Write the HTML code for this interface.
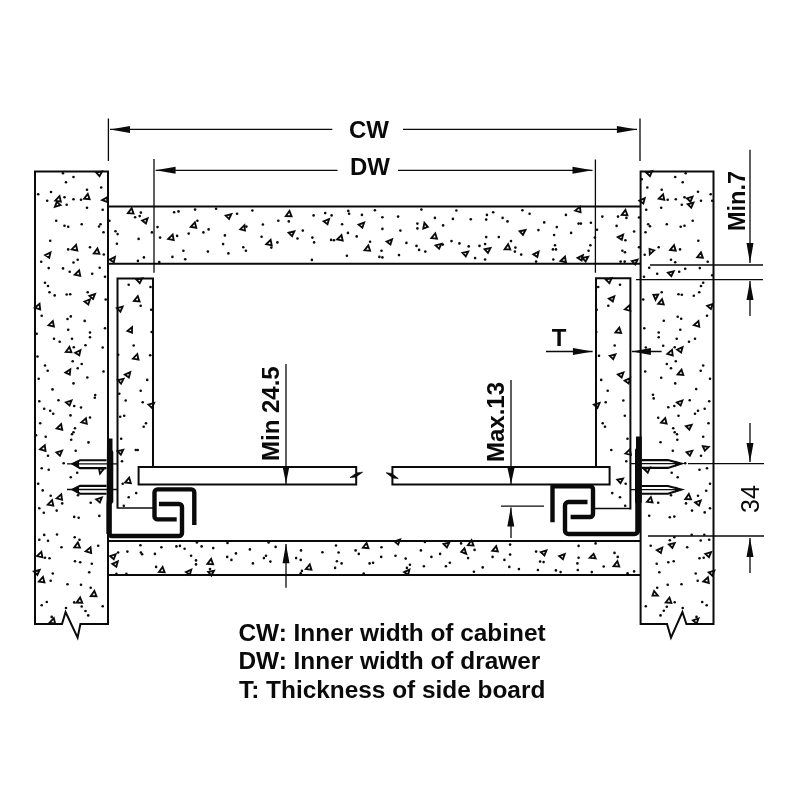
<!DOCTYPE html>
<html><head><meta charset="utf-8"><style>
html,body{margin:0;padding:0;background:#fff;width:800px;height:800px;overflow:hidden}
svg{display:block;will-change:transform}
text{font-family:"Liberation Sans",sans-serif}
</style></head><body>
<svg width="800" height="800" viewBox="0 0 800 800">
<rect width="800" height="800" fill="#fff"/>
<g fill="#0a0a0a"><circle cx="63.0" cy="173.2" r="1.3"/><circle cx="73.5" cy="177.0" r="1.3"/><circle cx="66.0" cy="182.2" r="1.3"/><circle cx="101.2" cy="187.5" r="1.3"/><circle cx="87.0" cy="189.7" r="1.3"/><circle cx="51.0" cy="192.0" r="1.3"/><circle cx="38.2" cy="194.2" r="1.3"/><circle cx="47.2" cy="200.7" r="1.3"/><circle cx="64.5" cy="197.2" r="1.3"/><circle cx="73.5" cy="199.2" r="1.3"/><circle cx="81.0" cy="199.8" r="1.3"/><circle cx="66.7" cy="204.7" r="1.3"/><circle cx="87.0" cy="207.7" r="1.3"/><circle cx="102.7" cy="209.7" r="1.3"/><circle cx="56.2" cy="220.8" r="1.3"/><circle cx="64.5" cy="225.7" r="1.3"/><circle cx="68.2" cy="226.8" r="1.3"/><circle cx="81.7" cy="224.2" r="1.3"/><circle cx="100.5" cy="224.2" r="1.3"/><circle cx="99.0" cy="226.5" r="1.3"/><circle cx="103.5" cy="232.2" r="1.3"/><circle cx="50.2" cy="240.7" r="1.3"/><circle cx="68.2" cy="249.4" r="1.3"/><circle cx="90.0" cy="247.2" r="1.3"/><circle cx="103.8" cy="254.5" r="1.3"/><circle cx="41.2" cy="261.7" r="1.3"/><circle cx="73.5" cy="262.5" r="1.3"/><circle cx="77.7" cy="259.8" r="1.3"/><circle cx="48.7" cy="268.1" r="1.3"/><circle cx="63.0" cy="268.4" r="1.3"/><circle cx="69.7" cy="271.7" r="1.3"/><circle cx="92.2" cy="273.7" r="1.3"/><circle cx="99.7" cy="267.7" r="1.3"/><circle cx="105.0" cy="276.7" r="1.3"/><circle cx="45.0" cy="282.7" r="1.3"/><circle cx="252.4" cy="210.5" r="1.3"/><circle cx="313.6" cy="215.4" r="1.3"/><circle cx="325.2" cy="213.1" r="1.3"/><circle cx="331.6" cy="215.4" r="1.3"/><circle cx="348.3" cy="210.9" r="1.3"/><circle cx="349.1" cy="213.7" r="1.3"/><circle cx="361.9" cy="214.9" r="1.3"/><circle cx="374.9" cy="210.2" r="1.3"/><circle cx="382.4" cy="217.2" r="1.3"/><circle cx="278.3" cy="220.7" r="1.3"/><circle cx="288.8" cy="221.4" r="1.3"/><circle cx="262.9" cy="224.5" r="1.3"/><circle cx="342.1" cy="224.2" r="1.3"/><circle cx="246.4" cy="226.6" r="1.3"/><circle cx="302.8" cy="230.6" r="1.3"/><circle cx="382.4" cy="228.9" r="1.3"/><circle cx="347.9" cy="232.9" r="1.3"/><circle cx="261.6" cy="236.8" r="1.3"/><circle cx="297.5" cy="238.5" r="1.3"/><circle cx="312.4" cy="237.6" r="1.3"/><circle cx="314.1" cy="242.4" r="1.3"/><circle cx="331.1" cy="239.9" r="1.3"/><circle cx="333.9" cy="240.3" r="1.3"/><circle cx="356.7" cy="236.4" r="1.3"/><circle cx="370.1" cy="241.7" r="1.3"/><circle cx="277.4" cy="242.4" r="1.3"/><circle cx="271.3" cy="247.6" r="1.3"/><circle cx="245.9" cy="250.8" r="1.3"/><circle cx="381.5" cy="250.8" r="1.3"/><circle cx="346.9" cy="255.7" r="1.3"/><circle cx="379.4" cy="256.9" r="1.3"/><circle cx="382.4" cy="257.4" r="1.3"/><circle cx="311.9" cy="259.9" r="1.3"/><circle cx="421.4" cy="209.6" r="1.3"/><circle cx="456.4" cy="210.5" r="1.3"/><circle cx="493.2" cy="212.3" r="1.3"/><circle cx="486.9" cy="214.9" r="1.3"/><circle cx="522.4" cy="210.2" r="1.3"/><circle cx="398.1" cy="216.6" r="1.3"/><circle cx="434.9" cy="217.9" r="1.3"/><circle cx="452.9" cy="218.9" r="1.3"/><circle cx="470.8" cy="219.3" r="1.3"/><circle cx="486.2" cy="219.6" r="1.3"/><circle cx="502.6" cy="217.9" r="1.3"/><circle cx="507.5" cy="221.4" r="1.3"/><circle cx="417.4" cy="223.6" r="1.3"/><circle cx="417.4" cy="228.4" r="1.3"/><circle cx="443.1" cy="225.4" r="1.3"/><circle cx="400.4" cy="230.6" r="1.3"/><circle cx="486.2" cy="237.1" r="1.3"/><circle cx="498.8" cy="237.1" r="1.3"/><circle cx="451.5" cy="241.1" r="1.3"/><circle cx="459.4" cy="243.4" r="1.3"/><circle cx="406.4" cy="242.9" r="1.3"/><circle cx="416.5" cy="245.9" r="1.3"/><circle cx="468.7" cy="246.4" r="1.3"/><circle cx="479.5" cy="245.9" r="1.3"/><circle cx="485.1" cy="244.1" r="1.3"/><circle cx="511.0" cy="241.1" r="1.3"/><circle cx="442.8" cy="244.6" r="1.3"/><circle cx="419.1" cy="249.9" r="1.3"/><circle cx="425.3" cy="251.6" r="1.3"/><circle cx="515.4" cy="247.6" r="1.3"/><circle cx="514.9" cy="251.6" r="1.3"/><circle cx="521.2" cy="254.6" r="1.3"/><circle cx="399.0" cy="255.1" r="1.3"/><circle cx="475.1" cy="258.1" r="1.3"/><circle cx="485.1" cy="259.5" r="1.3"/><circle cx="529.6" cy="213.7" r="1.3"/><circle cx="565.9" cy="214.9" r="1.3"/><circle cx="544.2" cy="222.4" r="1.3"/><circle cx="578.6" cy="223.6" r="1.3"/><circle cx="580.9" cy="223.6" r="1.3"/><circle cx="590.9" cy="222.8" r="1.3"/><circle cx="556.8" cy="227.1" r="1.3"/><circle cx="538.4" cy="230.1" r="1.3"/><circle cx="571.1" cy="232.9" r="1.3"/><circle cx="554.1" cy="235.0" r="1.3"/><circle cx="602.3" cy="216.6" r="1.3"/><circle cx="618.0" cy="216.6" r="1.3"/><circle cx="626.4" cy="217.9" r="1.3"/><circle cx="616.6" cy="225.9" r="1.3"/><circle cx="634.1" cy="231.5" r="1.3"/><circle cx="625.4" cy="240.3" r="1.3"/><circle cx="597.0" cy="229.8" r="1.3"/><circle cx="594.9" cy="237.6" r="1.3"/><circle cx="590.4" cy="245.2" r="1.3"/><circle cx="552.9" cy="249.4" r="1.3"/><circle cx="555.9" cy="249.4" r="1.3"/><circle cx="555.0" cy="245.2" r="1.3"/><circle cx="588.6" cy="250.8" r="1.3"/><circle cx="622.4" cy="250.8" r="1.3"/><circle cx="625.0" cy="252.2" r="1.3"/><circle cx="553.3" cy="259.5" r="1.3"/><circle cx="536.1" cy="261.6" r="1.3"/><circle cx="620.6" cy="261.6" r="1.3"/><circle cx="624.7" cy="261.6" r="1.3"/><circle cx="639.0" cy="217.5" r="1.3"/><circle cx="639.0" cy="247.3" r="1.3"/><circle cx="118.1" cy="552.5" r="1.3"/><circle cx="127.4" cy="551.6" r="1.3"/><circle cx="140.4" cy="545.2" r="1.3"/><circle cx="140.9" cy="552.5" r="1.3"/><circle cx="142.1" cy="554.3" r="1.3"/><circle cx="154.9" cy="553.9" r="1.3"/><circle cx="161.4" cy="547.3" r="1.3"/><circle cx="176.4" cy="546.4" r="1.3"/><circle cx="179.9" cy="545.9" r="1.3"/><circle cx="184.6" cy="548.7" r="1.3"/><circle cx="196.9" cy="542.4" r="1.3"/><circle cx="201.6" cy="546.4" r="1.3"/><circle cx="213.2" cy="548.1" r="1.3"/><circle cx="191.1" cy="555.7" r="1.3"/><circle cx="196.0" cy="560.4" r="1.3"/><circle cx="196.0" cy="564.4" r="1.3"/><circle cx="227.5" cy="542.9" r="1.3"/><circle cx="235.9" cy="553.4" r="1.3"/><circle cx="227.2" cy="556.9" r="1.3"/><circle cx="231.4" cy="559.9" r="1.3"/><circle cx="156.1" cy="566.9" r="1.3"/><circle cx="210.0" cy="569.1" r="1.3"/><circle cx="116.4" cy="573.9" r="1.3"/><circle cx="126.4" cy="573.9" r="1.3"/><circle cx="249.9" cy="549.4" r="1.3"/><circle cx="275.6" cy="546.9" r="1.3"/><circle cx="266.0" cy="555.7" r="1.3"/><circle cx="263.9" cy="558.1" r="1.3"/><circle cx="270.4" cy="561.6" r="1.3"/><circle cx="252.9" cy="563.4" r="1.3"/><circle cx="301.0" cy="550.4" r="1.3"/><circle cx="296.1" cy="558.1" r="1.3"/><circle cx="300.7" cy="559.9" r="1.3"/><circle cx="301.9" cy="570.9" r="1.3"/><circle cx="300.7" cy="573.2" r="1.3"/><circle cx="322.4" cy="552.2" r="1.3"/><circle cx="336.0" cy="545.5" r="1.3"/><circle cx="338.6" cy="552.5" r="1.3"/><circle cx="336.9" cy="561.3" r="1.3"/><circle cx="341.6" cy="563.4" r="1.3"/><circle cx="335.1" cy="567.9" r="1.3"/><circle cx="355.6" cy="550.4" r="1.3"/><circle cx="358.8" cy="553.9" r="1.3"/><circle cx="381.5" cy="547.3" r="1.3"/><circle cx="381.2" cy="556.9" r="1.3"/><circle cx="369.6" cy="563.4" r="1.3"/><circle cx="373.1" cy="562.7" r="1.3"/><circle cx="268.6" cy="542.4" r="1.3"/><circle cx="363.7" cy="573.5" r="1.3"/><circle cx="461.1" cy="543.4" r="1.3"/><circle cx="424.9" cy="542.0" r="1.3"/><circle cx="420.9" cy="550.4" r="1.3"/><circle cx="395.5" cy="555.7" r="1.3"/><circle cx="405.7" cy="558.6" r="1.3"/><circle cx="431.4" cy="556.9" r="1.3"/><circle cx="440.1" cy="553.9" r="1.3"/><circle cx="449.8" cy="562.7" r="1.3"/><circle cx="445.9" cy="566.2" r="1.3"/><circle cx="423.9" cy="566.2" r="1.3"/><circle cx="409.9" cy="564.8" r="1.3"/><circle cx="406.9" cy="567.9" r="1.3"/><circle cx="474.6" cy="549.9" r="1.3"/><circle cx="468.1" cy="558.1" r="1.3"/><circle cx="492.6" cy="556.9" r="1.3"/><circle cx="504.4" cy="559.9" r="1.3"/><circle cx="510.1" cy="544.6" r="1.3"/><circle cx="510.1" cy="554.6" r="1.3"/><circle cx="509.3" cy="566.9" r="1.3"/><circle cx="518.9" cy="569.1" r="1.3"/><circle cx="482.7" cy="567.4" r="1.3"/><circle cx="473.9" cy="571.8" r="1.3"/><circle cx="536.1" cy="551.6" r="1.3"/><circle cx="540.1" cy="561.6" r="1.3"/><circle cx="543.6" cy="562.1" r="1.3"/><circle cx="578.6" cy="545.9" r="1.3"/><circle cx="595.6" cy="543.4" r="1.3"/><circle cx="578.6" cy="557.8" r="1.3"/><circle cx="577.4" cy="563.4" r="1.3"/><circle cx="614.5" cy="552.9" r="1.3"/><circle cx="617.7" cy="556.9" r="1.3"/><circle cx="603.7" cy="566.5" r="1.3"/><circle cx="537.9" cy="570.0" r="1.3"/><circle cx="555.9" cy="570.4" r="1.3"/><circle cx="560.6" cy="572.1" r="1.3"/><circle cx="577.8" cy="570.0" r="1.3"/><circle cx="591.8" cy="572.1" r="1.3"/><circle cx="627.6" cy="573.2" r="1.3"/><circle cx="634.1" cy="571.4" r="1.3"/><circle cx="128.7" cy="284.7" r="1.3"/><circle cx="150.5" cy="287.0" r="1.3"/><circle cx="140.7" cy="305.7" r="1.3"/><circle cx="151.2" cy="309.8" r="1.3"/><circle cx="151.7" cy="332.0" r="1.3"/><circle cx="133.7" cy="345.5" r="1.3"/><circle cx="118.2" cy="354.8" r="1.3"/><circle cx="150.2" cy="355.2" r="1.3"/><circle cx="147.2" cy="379.9" r="1.3"/><circle cx="140.7" cy="390.7" r="1.3"/><circle cx="119.3" cy="393.7" r="1.3"/><circle cx="125.7" cy="400.5" r="1.3"/><circle cx="142.7" cy="402.3" r="1.3"/><circle cx="120.2" cy="416.7" r="1.3"/><circle cx="124.2" cy="415.8" r="1.3"/><circle cx="146.0" cy="423.3" r="1.3"/><circle cx="143.7" cy="426.7" r="1.3"/><circle cx="121.2" cy="438.7" r="1.3"/><circle cx="135.8" cy="450.0" r="1.3"/><circle cx="137.7" cy="450.0" r="1.3"/><circle cx="122.0" cy="461.2" r="1.3"/><circle cx="122.7" cy="483.7" r="1.3"/><circle cx="136.2" cy="493.1" r="1.3"/><circle cx="128.7" cy="497.2" r="1.3"/><circle cx="123.8" cy="505.7" r="1.3"/><circle cx="598.2" cy="287.0" r="1.3"/><circle cx="620.0" cy="284.7" r="1.3"/><circle cx="608.3" cy="305.7" r="1.3"/><circle cx="596.7" cy="309.8" r="1.3"/><circle cx="596.3" cy="332.0" r="1.3"/><circle cx="614.7" cy="345.5" r="1.3"/><circle cx="599.0" cy="355.7" r="1.3"/><circle cx="601.2" cy="379.9" r="1.3"/><circle cx="607.7" cy="390.7" r="1.3"/><circle cx="48.0" cy="286.0" r="1.3"/><circle cx="49.5" cy="292.3" r="1.3"/><circle cx="54.7" cy="295.4" r="1.3"/><circle cx="66.7" cy="294.5" r="1.3"/><circle cx="70.2" cy="294.2" r="1.3"/><circle cx="87.7" cy="292.3" r="1.3"/><circle cx="105.7" cy="299.5" r="1.3"/><circle cx="41.7" cy="315.7" r="1.3"/><circle cx="67.5" cy="319.0" r="1.3"/><circle cx="70.8" cy="316.4" r="1.3"/><circle cx="84.7" cy="320.9" r="1.3"/><circle cx="105.0" cy="328.3" r="1.3"/><circle cx="68.2" cy="329.8" r="1.3"/><circle cx="36.7" cy="333.7" r="1.3"/><circle cx="90.0" cy="332.5" r="1.3"/><circle cx="90.0" cy="337.3" r="1.3"/><circle cx="54.0" cy="338.8" r="1.3"/><circle cx="59.7" cy="341.8" r="1.3"/><circle cx="72.0" cy="338.8" r="1.3"/><circle cx="85.5" cy="345.2" r="1.3"/><circle cx="73.8" cy="347.2" r="1.3"/><circle cx="102.7" cy="347.5" r="1.3"/><circle cx="37.5" cy="356.5" r="1.3"/><circle cx="72.7" cy="361.3" r="1.3"/><circle cx="81.7" cy="364.0" r="1.3"/><circle cx="45.0" cy="365.5" r="1.3"/><circle cx="77.7" cy="368.2" r="1.3"/><circle cx="47.7" cy="370.7" r="1.3"/><circle cx="103.5" cy="371.5" r="1.3"/><circle cx="38.7" cy="378.7" r="1.3"/><circle cx="87.3" cy="377.5" r="1.3"/><circle cx="73.5" cy="383.4" r="1.3"/><circle cx="52.5" cy="389.4" r="1.3"/><circle cx="95.2" cy="395.1" r="1.3"/><circle cx="94.8" cy="397.7" r="1.3"/><circle cx="605.7" cy="402.3" r="1.3"/><circle cx="623.3" cy="400.5" r="1.3"/><circle cx="624.8" cy="415.8" r="1.3"/><circle cx="602.7" cy="423.3" r="1.3"/><circle cx="605.0" cy="426.7" r="1.3"/><circle cx="627.5" cy="438.7" r="1.3"/><circle cx="611.3" cy="450.0" r="1.3"/><circle cx="626.3" cy="461.2" r="1.3"/><circle cx="625.7" cy="483.7" r="1.3"/><circle cx="612.2" cy="493.1" r="1.3"/><circle cx="620.0" cy="497.2" r="1.3"/><circle cx="625.2" cy="505.7" r="1.3"/><circle cx="39.3" cy="401.2" r="1.3"/><circle cx="58.5" cy="400.3" r="1.3"/><circle cx="74.2" cy="406.0" r="1.3"/><circle cx="81.0" cy="407.5" r="1.3"/><circle cx="44.2" cy="408.7" r="1.3"/><circle cx="50.2" cy="410.8" r="1.3"/><circle cx="53.2" cy="413.8" r="1.3"/><circle cx="70.5" cy="415.4" r="1.3"/><circle cx="90.0" cy="417.5" r="1.3"/><circle cx="40.2" cy="423.2" r="1.3"/><circle cx="75.0" cy="428.2" r="1.3"/><circle cx="73.5" cy="432.2" r="1.3"/><circle cx="72.0" cy="434.2" r="1.3"/><circle cx="36.0" cy="435.2" r="1.3"/><circle cx="45.7" cy="436.7" r="1.3"/><circle cx="71.2" cy="439.7" r="1.3"/><circle cx="88.5" cy="442.4" r="1.3"/><circle cx="75.7" cy="450.7" r="1.3"/><circle cx="48.0" cy="455.8" r="1.3"/><circle cx="63.7" cy="463.3" r="1.3"/><circle cx="41.7" cy="468.2" r="1.3"/><circle cx="48.7" cy="469.7" r="1.3"/><circle cx="77.2" cy="472.7" r="1.3"/><circle cx="70.8" cy="477.2" r="1.3"/><circle cx="38.2" cy="483.7" r="1.3"/><circle cx="42.7" cy="490.4" r="1.3"/><circle cx="78.0" cy="495.2" r="1.3"/><circle cx="50.7" cy="495.7" r="1.3"/><circle cx="62.2" cy="503.4" r="1.3"/><circle cx="90.7" cy="502.7" r="1.3"/><circle cx="39.3" cy="508.2" r="1.3"/><circle cx="43.8" cy="512.7" r="1.3"/><circle cx="56.7" cy="510.6" r="1.3"/><circle cx="74.2" cy="516.9" r="1.3"/><circle cx="78.7" cy="517.7" r="1.3"/><circle cx="99.3" cy="515.9" r="1.3"/><circle cx="44.2" cy="534.9" r="1.3"/><circle cx="57.0" cy="534.5" r="1.3"/><circle cx="39.3" cy="539.7" r="1.3"/><circle cx="48.0" cy="540.8" r="1.3"/><circle cx="74.7" cy="537.2" r="1.3"/><circle cx="79.5" cy="539.7" r="1.3"/><circle cx="61.5" cy="547.2" r="1.3"/><circle cx="98.2" cy="545.7" r="1.3"/><circle cx="45.0" cy="557.7" r="1.3"/><circle cx="49.5" cy="558.2" r="1.3"/><circle cx="75.0" cy="561.2" r="1.3"/><circle cx="80.2" cy="562.2" r="1.3"/><circle cx="91.8" cy="563.7" r="1.3"/><circle cx="89.2" cy="572.3" r="1.3"/><circle cx="52.8" cy="573.5" r="1.3"/><circle cx="50.7" cy="580.7" r="1.3"/><circle cx="67.5" cy="584.3" r="1.3"/><circle cx="81.0" cy="584.7" r="1.3"/><circle cx="90.7" cy="587.7" r="1.3"/><circle cx="46.8" cy="602.0" r="1.3"/><circle cx="41.7" cy="605.3" r="1.3"/><circle cx="74.2" cy="602.4" r="1.3"/><circle cx="81.7" cy="606.5" r="1.3"/><circle cx="102.7" cy="606.2" r="1.3"/><circle cx="66.0" cy="608.0" r="1.3"/><circle cx="85.5" cy="611.0" r="1.3"/><circle cx="88.2" cy="615.4" r="1.3"/><circle cx="51.7" cy="616.9" r="1.3"/><circle cx="675.2" cy="177.0" r="1.3"/><circle cx="682.7" cy="182.2" r="1.3"/><circle cx="685.7" cy="173.2" r="1.3"/><circle cx="641.7" cy="179.2" r="1.3"/><circle cx="647.3" cy="187.5" r="1.3"/><circle cx="661.7" cy="189.7" r="1.3"/><circle cx="698.0" cy="191.7" r="1.3"/><circle cx="710.7" cy="194.2" r="1.3"/><circle cx="667.7" cy="199.8" r="1.3"/><circle cx="675.8" cy="199.2" r="1.3"/><circle cx="684.5" cy="197.2" r="1.3"/><circle cx="701.0" cy="200.7" r="1.3"/><circle cx="712.2" cy="200.7" r="1.3"/><circle cx="681.8" cy="204.7" r="1.3"/><circle cx="661.2" cy="207.7" r="1.3"/><circle cx="646.2" cy="209.7" r="1.3"/><circle cx="692.7" cy="220.8" r="1.3"/><circle cx="648.2" cy="224.2" r="1.3"/><circle cx="650.0" cy="226.2" r="1.3"/><circle cx="666.8" cy="224.2" r="1.3"/><circle cx="680.7" cy="226.8" r="1.3"/><circle cx="684.5" cy="225.7" r="1.3"/><circle cx="645.5" cy="232.2" r="1.3"/><circle cx="698.3" cy="240.7" r="1.3"/><circle cx="658.7" cy="247.2" r="1.3"/><circle cx="680.0" cy="249.4" r="1.3"/><circle cx="644.7" cy="254.7" r="1.3"/><circle cx="671.0" cy="259.8" r="1.3"/><circle cx="675.2" cy="262.2" r="1.3"/><circle cx="707.7" cy="261.7" r="1.3"/><circle cx="649.2" cy="267.7" r="1.3"/><circle cx="657.2" cy="273.7" r="1.3"/><circle cx="679.2" cy="271.7" r="1.3"/><circle cx="685.2" cy="268.7" r="1.3"/><circle cx="699.8" cy="268.1" r="1.3"/><circle cx="644.0" cy="276.7" r="1.3"/><circle cx="712.2" cy="275.2" r="1.3"/><circle cx="703.2" cy="282.7" r="1.3"/><circle cx="701.0" cy="286.0" r="1.3"/><circle cx="661.7" cy="292.3" r="1.3"/><circle cx="678.5" cy="294.2" r="1.3"/><circle cx="681.8" cy="294.7" r="1.3"/><circle cx="693.8" cy="295.7" r="1.3"/><circle cx="699.2" cy="292.3" r="1.3"/><circle cx="643.2" cy="299.5" r="1.3"/><circle cx="677.7" cy="316.7" r="1.3"/><circle cx="681.2" cy="318.7" r="1.3"/><circle cx="707.0" cy="315.7" r="1.3"/><circle cx="663.8" cy="320.8" r="1.3"/><circle cx="644.3" cy="328.3" r="1.3"/><circle cx="680.3" cy="329.8" r="1.3"/><circle cx="658.7" cy="332.5" r="1.3"/><circle cx="658.7" cy="337.3" r="1.3"/><circle cx="676.7" cy="338.8" r="1.3"/><circle cx="689.0" cy="341.8" r="1.3"/><circle cx="695.0" cy="338.8" r="1.3"/><circle cx="663.2" cy="345.7" r="1.3"/><circle cx="674.7" cy="347.2" r="1.3"/><circle cx="645.8" cy="347.5" r="1.3"/><circle cx="675.8" cy="361.3" r="1.3"/><circle cx="666.8" cy="364.0" r="1.3"/><circle cx="671.0" cy="368.2" r="1.3"/><circle cx="703.2" cy="365.5" r="1.3"/><circle cx="645.2" cy="371.5" r="1.3"/><circle cx="700.7" cy="370.7" r="1.3"/><circle cx="661.2" cy="377.8" r="1.3"/><circle cx="710.0" cy="378.7" r="1.3"/><circle cx="675.2" cy="383.4" r="1.3"/><circle cx="696.2" cy="389.1" r="1.3"/><circle cx="653.0" cy="394.7" r="1.3"/><circle cx="653.7" cy="398.4" r="1.3"/><circle cx="689.7" cy="400.3" r="1.3"/><circle cx="709.2" cy="401.2" r="1.3"/><circle cx="668.3" cy="407.2" r="1.3"/><circle cx="674.3" cy="406.0" r="1.3"/><circle cx="704.7" cy="408.7" r="1.3"/><circle cx="698.0" cy="410.8" r="1.3"/><circle cx="695.0" cy="413.8" r="1.3"/><circle cx="678.5" cy="415.7" r="1.3"/><circle cx="658.2" cy="417.7" r="1.3"/><circle cx="708.5" cy="423.2" r="1.3"/><circle cx="673.2" cy="428.2" r="1.3"/><circle cx="674.7" cy="432.2" r="1.3"/><circle cx="677.0" cy="434.2" r="1.3"/><circle cx="703.2" cy="436.7" r="1.3"/><circle cx="677.3" cy="439.7" r="1.3"/><circle cx="660.5" cy="442.3" r="1.3"/><circle cx="672.8" cy="450.7" r="1.3"/><circle cx="701.0" cy="455.8" r="1.3"/><circle cx="685.2" cy="463.3" r="1.3"/><circle cx="699.5" cy="469.7" r="1.3"/><circle cx="707.0" cy="468.2" r="1.3"/><circle cx="671.7" cy="472.7" r="1.3"/><circle cx="677.7" cy="477.2" r="1.3"/><circle cx="710.0" cy="483.7" r="1.3"/><circle cx="706.2" cy="490.7" r="1.3"/><circle cx="671.0" cy="495.2" r="1.3"/><circle cx="698.0" cy="495.7" r="1.3"/><circle cx="658.2" cy="502.7" r="1.3"/><circle cx="686.0" cy="503.4" r="1.3"/><circle cx="692.0" cy="510.6" r="1.3"/><circle cx="710.0" cy="508.2" r="1.3"/><circle cx="704.7" cy="512.4" r="1.3"/><circle cx="649.2" cy="515.7" r="1.3"/><circle cx="669.8" cy="517.2" r="1.3"/><circle cx="674.3" cy="516.6" r="1.3"/><circle cx="691.7" cy="534.8" r="1.3"/><circle cx="704.3" cy="534.8" r="1.3"/><circle cx="674.3" cy="537.2" r="1.3"/><circle cx="669.8" cy="540.2" r="1.3"/><circle cx="700.7" cy="540.5" r="1.3"/><circle cx="709.2" cy="539.7" r="1.3"/><circle cx="650.7" cy="545.7" r="1.3"/><circle cx="687.2" cy="547.2" r="1.3"/><circle cx="699.5" cy="558.2" r="1.3"/><circle cx="703.7" cy="557.7" r="1.3"/><circle cx="656.7" cy="563.7" r="1.3"/><circle cx="668.3" cy="562.2" r="1.3"/><circle cx="673.7" cy="561.2" r="1.3"/><circle cx="659.3" cy="572.3" r="1.3"/><circle cx="695.7" cy="573.5" r="1.3"/><circle cx="697.7" cy="580.7" r="1.3"/><circle cx="667.7" cy="584.7" r="1.3"/><circle cx="681.5" cy="584.3" r="1.3"/><circle cx="657.2" cy="587.7" r="1.3"/><circle cx="674.7" cy="602.3" r="1.3"/><circle cx="702.2" cy="602.0" r="1.3"/><circle cx="706.7" cy="605.3" r="1.3"/><circle cx="645.8" cy="606.2" r="1.3"/><circle cx="666.8" cy="606.8" r="1.3"/><circle cx="682.7" cy="608.0" r="1.3"/><circle cx="663.8" cy="610.7" r="1.3"/><circle cx="660.5" cy="615.4" r="1.3"/><circle cx="696.5" cy="616.9" r="1.3"/><circle cx="140.9" cy="212.6" r="1.3"/><circle cx="135.1" cy="217.2" r="1.3"/><circle cx="139.7" cy="216.1" r="1.3"/><circle cx="174.1" cy="212.3" r="1.3"/><circle cx="178.5" cy="211.4" r="1.3"/><circle cx="195.1" cy="209.6" r="1.3"/><circle cx="216.1" cy="208.8" r="1.3"/><circle cx="237.1" cy="213.7" r="1.3"/><circle cx="197.4" cy="220.7" r="1.3"/><circle cx="109.4" cy="220.7" r="1.3"/><circle cx="157.5" cy="227.1" r="1.3"/><circle cx="115.5" cy="231.2" r="1.3"/><circle cx="117.6" cy="234.1" r="1.3"/><circle cx="151.9" cy="232.4" r="1.3"/><circle cx="208.6" cy="229.4" r="1.3"/><circle cx="203.4" cy="232.4" r="1.3"/><circle cx="188.7" cy="233.6" r="1.3"/><circle cx="177.1" cy="235.9" r="1.3"/><circle cx="160.1" cy="237.6" r="1.3"/><circle cx="138.6" cy="238.9" r="1.3"/><circle cx="224.9" cy="235.4" r="1.3"/><circle cx="116.9" cy="243.8" r="1.3"/><circle cx="223.1" cy="244.1" r="1.3"/><circle cx="243.3" cy="247.3" r="1.3"/><circle cx="183.4" cy="250.8" r="1.3"/><circle cx="207.9" cy="251.6" r="1.3"/><circle cx="228.4" cy="253.4" r="1.3"/><circle cx="172.4" cy="256.9" r="1.3"/><circle cx="185.2" cy="259.2" r="1.3"/><circle cx="143.9" cy="257.4" r="1.3"/><circle cx="137.9" cy="260.9" r="1.3"/><circle cx="159.3" cy="262.1" r="1.3"/></g>
<g fill="none" stroke="#0a0a0a" stroke-width="1.85" stroke-linejoin="miter" stroke-miterlimit="2.6"><path transform="translate(58.5,198.7) rotate(3)" d="M-3.1,2.1 L0.9,-2.6 L2.5,2.8 Z"/><path transform="translate(57.7,204.7) rotate(183)" d="M-2.8,-0.2 L2.7,-2.3 L1.0,2.8 Z"/><path transform="translate(87.0,196.5) rotate(-3)" d="M-3.1,2.1 L0.9,-2.6 L2.5,2.8 Z"/><path transform="translate(75.0,247.5) rotate(4)" d="M-3.1,2.1 L0.9,-2.6 L2.5,2.8 Z"/><path transform="translate(96.7,251.2) rotate(-4)" d="M-3.1,2.1 L0.9,-2.6 L2.5,2.8 Z"/><path transform="translate(48.0,255.0) rotate(-5)" d="M-2.8,-0.2 L2.7,-2.3 L1.0,2.8 Z"/><path transform="translate(78.0,272.9) rotate(5)" d="M-3.1,2.1 L0.9,-2.6 L2.5,2.8 Z"/><path transform="translate(99.0,173.2) rotate(10)" d="M-2.8,-0.2 L2.7,-2.3 L1.0,2.8 Z"/><path transform="translate(105.7,200.2) rotate(222)" d="M-2.8,-0.2 L2.7,-2.3 L1.0,2.8 Z"/><path transform="translate(112.5,259.5) rotate(-6)" d="M-2.8,-0.2 L2.7,-2.3 L1.0,2.8 Z"/><path transform="translate(288.8,213.7) rotate(-5)" d="M-3.1,2.1 L0.9,-2.6 L2.5,2.8 Z"/><path transform="translate(326.4,221.4) rotate(-2)" d="M-2.8,-0.2 L2.7,-2.3 L1.0,2.8 Z"/><path transform="translate(361.4,224.9) rotate(1)" d="M-2.8,-0.2 L2.7,-2.3 L1.0,2.8 Z"/><path transform="translate(291.4,233.3) rotate(7)" d="M-2.8,-0.2 L2.7,-2.3 L1.0,2.8 Z"/><path transform="translate(340.4,237.6) rotate(4)" d="M-3.1,2.1 L0.9,-2.6 L2.5,2.8 Z"/><path transform="translate(269.5,242.4) rotate(5)" d="M-3.1,2.1 L0.9,-2.6 L2.5,2.8 Z"/><path transform="translate(367.5,248.1) rotate(-2)" d="M-3.1,2.1 L0.9,-2.6 L2.5,2.8 Z"/><path transform="translate(424.9,226.3) rotate(302)" d="M-2.8,-0.2 L2.7,-2.3 L1.0,2.8 Z"/><path transform="translate(434.4,235.9) rotate(-1)" d="M-3.1,2.1 L0.9,-2.6 L2.5,2.8 Z"/><path transform="translate(389.4,241.7) rotate(-1)" d="M-2.8,-0.2 L2.7,-2.3 L1.0,2.8 Z"/><path transform="translate(438.4,245.9) rotate(6)" d="M-2.8,-0.2 L2.7,-2.3 L1.0,2.8 Z"/><path transform="translate(465.2,253.4) rotate(8)" d="M-2.8,-0.2 L2.7,-2.3 L1.0,2.8 Z"/><path transform="translate(487.4,249.9) rotate(9)" d="M-2.8,-0.2 L2.7,-2.3 L1.0,2.8 Z"/><path transform="translate(507.5,246.9) rotate(-6)" d="M-3.1,2.1 L0.9,-2.6 L2.5,2.8 Z"/><path transform="translate(522.4,231.9) rotate(9)" d="M-2.8,-0.2 L2.7,-2.3 L1.0,2.8 Z"/><path transform="translate(578.6,209.1) rotate(10)" d="M-3.1,2.1 L0.9,-2.6 L2.5,2.8 Z"/><path transform="translate(536.1,254.3) rotate(-5)" d="M-2.8,-0.2 L2.7,-2.3 L1.0,2.8 Z"/><path transform="translate(563.8,259.2) rotate(6)" d="M-3.1,2.1 L0.9,-2.6 L2.5,2.8 Z"/><path transform="translate(580.4,257.8) rotate(-5)" d="M-2.8,-0.2 L2.7,-2.3 L1.0,2.8 Z"/><path transform="translate(585.1,258.6) rotate(9)" d="M-2.8,-0.2 L2.7,-2.3 L1.0,2.8 Z"/><path transform="translate(624.7,212.6) rotate(-4)" d="M-3.1,2.1 L0.9,-2.6 L2.5,2.8 Z"/><path transform="translate(620.6,237.1) rotate(-4)" d="M-2.8,-0.2 L2.7,-2.3 L1.0,2.8 Z"/><path transform="translate(634.6,261.6) rotate(7)" d="M-2.8,-0.2 L2.7,-2.3 L1.0,2.8 Z"/><path transform="translate(112.9,556.4) rotate(3)" d="M-2.8,-0.2 L2.7,-2.3 L1.0,2.8 Z"/><path transform="translate(115.2,563.9) rotate(-3)" d="M-2.8,-0.2 L2.7,-2.3 L1.0,2.8 Z"/><path transform="translate(161.9,569.7) rotate(-4)" d="M-3.1,2.1 L0.9,-2.6 L2.5,2.8 Z"/><path transform="translate(210.4,561.6) rotate(-4)" d="M-3.1,2.1 L0.9,-2.6 L2.5,2.8 Z"/><path transform="translate(188.7,572.1) rotate(-3)" d="M-2.8,-0.2 L2.7,-2.3 L1.0,2.8 Z"/><path transform="translate(210.9,572.6) rotate(10)" d="M-2.8,-0.2 L2.7,-2.3 L1.0,2.8 Z"/><path transform="translate(308.9,566.9) rotate(-1)" d="M-3.1,2.1 L0.9,-2.6 L2.5,2.8 Z"/><path transform="translate(365.8,545.5) rotate(-3)" d="M-3.1,2.1 L0.9,-2.6 L2.5,2.8 Z"/><path transform="translate(446.3,544.6) rotate(8)" d="M-2.8,-0.2 L2.7,-2.3 L1.0,2.8 Z"/><path transform="translate(470.8,542.9) rotate(-4)" d="M-3.1,2.1 L0.9,-2.6 L2.5,2.8 Z"/><path transform="translate(464.1,551.1) rotate(93)" d="M-2.8,-0.2 L2.7,-2.3 L1.0,2.8 Z"/><path transform="translate(495.3,548.7) rotate(-1)" d="M-3.1,2.1 L0.9,-2.6 L2.5,2.8 Z"/><path transform="translate(406.9,572.1) rotate(-5)" d="M-2.8,-0.2 L2.7,-2.3 L1.0,2.8 Z"/><path transform="translate(397.3,541.7) rotate(3)" d="M-2.8,-0.2 L2.7,-2.3 L1.0,2.8 Z"/><path transform="translate(543.6,552.5) rotate(4)" d="M-2.8,-0.2 L2.7,-2.3 L1.0,2.8 Z"/><path transform="translate(562.0,556.4) rotate(1)" d="M-2.8,-0.2 L2.7,-2.3 L1.0,2.8 Z"/><path transform="translate(593.2,556.9) rotate(207)" d="M-2.8,-0.2 L2.7,-2.3 L1.0,2.8 Z"/><path transform="translate(616.6,563.9) rotate(-3)" d="M-3.1,2.1 L0.9,-2.6 L2.5,2.8 Z"/><path transform="translate(139.2,280.2) rotate(9)" d="M-2.8,-0.2 L2.7,-2.3 L1.0,2.8 Z"/><path transform="translate(137.0,298.7) rotate(-2)" d="M-3.1,2.1 L0.9,-2.6 L2.5,2.8 Z"/><path transform="translate(119.7,308.7) rotate(6)" d="M-2.8,-0.2 L2.7,-2.3 L1.0,2.8 Z"/><path transform="translate(130.2,330.2) rotate(342)" d="M-2.8,-0.2 L2.7,-2.3 L1.0,2.8 Z"/><path transform="translate(136.2,356.7) rotate(4)" d="M-3.1,2.1 L0.9,-2.6 L2.5,2.8 Z"/><path transform="translate(127.7,374.7) rotate(-4)" d="M-2.8,-0.2 L2.7,-2.3 L1.0,2.8 Z"/><path transform="translate(120.5,380.7) rotate(9)" d="M-2.8,-0.2 L2.7,-2.3 L1.0,2.8 Z"/><path transform="translate(151.2,405.0) rotate(5)" d="M-2.8,-0.2 L2.7,-2.3 L1.0,2.8 Z"/><path transform="translate(120.2,451.8) rotate(7)" d="M-2.8,-0.2 L2.7,-2.3 L1.0,2.8 Z"/><path transform="translate(128.3,480.3) rotate(-1)" d="M-3.1,2.1 L0.9,-2.6 L2.5,2.8 Z"/><path transform="translate(608.7,280.2) rotate(6)" d="M-2.8,-0.2 L2.7,-2.3 L1.0,2.8 Z"/><path transform="translate(611.7,298.7) rotate(-2)" d="M-2.8,-0.2 L2.7,-2.3 L1.0,2.8 Z"/><path transform="translate(628.2,307.7) rotate(8)" d="M-3.1,2.1 L0.9,-2.6 L2.5,2.8 Z"/><path transform="translate(618.5,330.2) rotate(-2)" d="M-3.1,2.1 L0.9,-2.6 L2.5,2.8 Z"/><path transform="translate(612.5,356.3) rotate(6)" d="M-2.8,-0.2 L2.7,-2.3 L1.0,2.8 Z"/><path transform="translate(620.7,374.7) rotate(1)" d="M-2.8,-0.2 L2.7,-2.3 L1.0,2.8 Z"/><path transform="translate(627.5,380.7) rotate(-3)" d="M-2.8,-0.2 L2.7,-2.3 L1.0,2.8 Z"/><path transform="translate(92.2,296.2) rotate(3)" d="M-2.8,-0.2 L2.7,-2.3 L1.0,2.8 Z"/><path transform="translate(87.3,301.7) rotate(-0)" d="M-2.8,-0.2 L2.7,-2.3 L1.0,2.8 Z"/><path transform="translate(38.2,306.2) rotate(10)" d="M-3.1,2.1 L0.9,-2.6 L2.5,2.8 Z"/><path transform="translate(51.7,323.5) rotate(5)" d="M-3.1,2.1 L0.9,-2.6 L2.5,2.8 Z"/><path transform="translate(68.7,349.7) rotate(-4)" d="M-3.1,2.1 L0.9,-2.6 L2.5,2.8 Z"/><path transform="translate(78.0,352.7) rotate(-6)" d="M-2.8,-0.2 L2.7,-2.3 L1.0,2.8 Z"/><path transform="translate(68.2,372.2) rotate(347)" d="M-2.8,-0.2 L2.7,-2.3 L1.0,2.8 Z"/><path transform="translate(596.7,405.0) rotate(4)" d="M-2.8,-0.2 L2.7,-2.3 L1.0,2.8 Z"/><path transform="translate(628.7,451.8) rotate(6)" d="M-3.1,2.1 L0.9,-2.6 L2.5,2.8 Z"/><path transform="translate(620.0,480.3) rotate(10)" d="M-2.8,-0.2 L2.7,-2.3 L1.0,2.8 Z"/><path transform="translate(68.7,402.7) rotate(3)" d="M-2.8,-0.2 L2.7,-2.3 L1.0,2.8 Z"/><path transform="translate(84.7,420.7) rotate(8)" d="M-3.1,2.1 L0.9,-2.6 L2.5,2.8 Z"/><path transform="translate(60.0,426.7) rotate(5)" d="M-3.1,2.1 L0.9,-2.6 L2.5,2.8 Z"/><path transform="translate(43.5,447.7) rotate(9)" d="M-3.1,2.1 L0.9,-2.6 L2.5,2.8 Z"/><path transform="translate(59.2,452.8) rotate(5)" d="M-2.8,-0.2 L2.7,-2.3 L1.0,2.8 Z"/><path transform="translate(101.2,470.2) rotate(150)" d="M-2.8,-0.2 L2.7,-2.3 L1.0,2.8 Z"/><path transform="translate(60.0,496.7) rotate(8)" d="M-3.1,2.1 L0.9,-2.6 L2.5,2.8 Z"/><path transform="translate(51.0,502.7) rotate(4)" d="M-3.1,2.1 L0.9,-2.6 L2.5,2.8 Z"/><path transform="translate(99.0,499.7) rotate(3)" d="M-2.8,-0.2 L2.7,-2.3 L1.0,2.8 Z"/><path transform="translate(77.2,545.0) rotate(-5)" d="M-3.1,2.1 L0.9,-2.6 L2.5,2.8 Z"/><path transform="translate(89.2,549.8) rotate(10)" d="M-3.1,2.1 L0.9,-2.6 L2.5,2.8 Z"/><path transform="translate(40.2,554.3) rotate(6)" d="M-3.1,2.1 L0.9,-2.6 L2.5,2.8 Z"/><path transform="translate(36.7,572.0) rotate(6)" d="M-2.8,-0.2 L2.7,-2.3 L1.0,2.8 Z"/><path transform="translate(42.0,579.5) rotate(1)" d="M-3.1,2.1 L0.9,-2.6 L2.5,2.8 Z"/><path transform="translate(93.7,593.7) rotate(-5)" d="M-3.1,2.1 L0.9,-2.6 L2.5,2.8 Z"/><path transform="translate(79.5,600.2) rotate(-6)" d="M-3.1,2.1 L0.9,-2.6 L2.5,2.8 Z"/><path transform="translate(52.8,620.7) rotate(2)" d="M-3.1,2.1 L0.9,-2.6 L2.5,2.8 Z"/><path transform="translate(649.2,173.2) rotate(5)" d="M-2.8,-0.2 L2.7,-2.3 L1.0,2.8 Z"/><path transform="translate(662.0,196.8) rotate(4)" d="M-3.1,2.1 L0.9,-2.6 L2.5,2.8 Z"/><path transform="translate(689.7,198.7) rotate(4)" d="M-2.8,-0.2 L2.7,-2.3 L1.0,2.8 Z"/><path transform="translate(690.5,204.7) rotate(5)" d="M-2.8,-0.2 L2.7,-2.3 L1.0,2.8 Z"/><path transform="translate(642.2,200.7) rotate(-3)" d="M-2.8,-0.2 L2.7,-2.3 L1.0,2.8 Z"/><path transform="translate(651.5,251.2) rotate(159)" d="M-2.8,-0.2 L2.7,-2.3 L1.0,2.8 Z"/><path transform="translate(673.2,247.8) rotate(-1)" d="M-3.1,2.1 L0.9,-2.6 L2.5,2.8 Z"/><path transform="translate(700.2,255.0) rotate(-3)" d="M-3.1,2.1 L0.9,-2.6 L2.5,2.8 Z"/><path transform="translate(670.7,273.2) rotate(7)" d="M-2.8,-0.2 L2.7,-2.3 L1.0,2.8 Z"/><path transform="translate(656.0,296.2) rotate(138)" d="M-2.8,-0.2 L2.7,-2.3 L1.0,2.8 Z"/><path transform="translate(661.2,301.7) rotate(-1)" d="M-3.1,2.1 L0.9,-2.6 L2.5,2.8 Z"/><path transform="translate(710.0,306.2) rotate(2)" d="M-2.8,-0.2 L2.7,-2.3 L1.0,2.8 Z"/><path transform="translate(697.2,323.5) rotate(8)" d="M-3.1,2.1 L0.9,-2.6 L2.5,2.8 Z"/><path transform="translate(670.7,352.3) rotate(9)" d="M-3.1,2.1 L0.9,-2.6 L2.5,2.8 Z"/><path transform="translate(680.0,349.7) rotate(-3)" d="M-2.8,-0.2 L2.7,-2.3 L1.0,2.8 Z"/><path transform="translate(680.7,372.2) rotate(-2)" d="M-3.1,2.1 L0.9,-2.6 L2.5,2.8 Z"/><path transform="translate(679.7,402.7) rotate(1)" d="M-2.8,-0.2 L2.7,-2.3 L1.0,2.8 Z"/><path transform="translate(664.2,420.7) rotate(2)" d="M-3.1,2.1 L0.9,-2.6 L2.5,2.8 Z"/><path transform="translate(688.7,426.7) rotate(7)" d="M-2.8,-0.2 L2.7,-2.3 L1.0,2.8 Z"/><path transform="translate(705.2,447.7) rotate(27)" d="M-2.8,-0.2 L2.7,-2.3 L1.0,2.8 Z"/><path transform="translate(689.3,452.8) rotate(8)" d="M-2.8,-0.2 L2.7,-2.3 L1.0,2.8 Z"/><path transform="translate(647.0,469.7) rotate(5)" d="M-2.8,-0.2 L2.7,-2.3 L1.0,2.8 Z"/><path transform="translate(650.0,499.7) rotate(-1)" d="M-3.1,2.1 L0.9,-2.6 L2.5,2.8 Z"/><path transform="translate(688.2,496.7) rotate(-6)" d="M-3.1,2.1 L0.9,-2.6 L2.5,2.8 Z"/><path transform="translate(698.0,502.7) rotate(1)" d="M-2.8,-0.2 L2.7,-2.3 L1.0,2.8 Z"/><path transform="translate(671.7,545.0) rotate(7)" d="M-2.8,-0.2 L2.7,-2.3 L1.0,2.8 Z"/><path transform="translate(659.7,550.2) rotate(-4)" d="M-2.8,-0.2 L2.7,-2.3 L1.0,2.8 Z"/><path transform="translate(708.2,554.3) rotate(4)" d="M-2.8,-0.2 L2.7,-2.3 L1.0,2.8 Z"/><path transform="translate(711.5,572.7) rotate(4)" d="M-2.8,-0.2 L2.7,-2.3 L1.0,2.8 Z"/><path transform="translate(706.7,579.8) rotate(7)" d="M-3.1,2.1 L0.9,-2.6 L2.5,2.8 Z"/><path transform="translate(654.8,593.7) rotate(72)" d="M-2.8,-0.2 L2.7,-2.3 L1.0,2.8 Z"/><path transform="translate(668.7,600.2) rotate(-3)" d="M-3.1,2.1 L0.9,-2.6 L2.5,2.8 Z"/><path transform="translate(695.7,620.7) rotate(2)" d="M-2.8,-0.2 L2.7,-2.3 L1.0,2.8 Z"/><path transform="translate(130.9,210.9) rotate(-3)" d="M-3.1,2.1 L0.9,-2.6 L2.5,2.8 Z"/><path transform="translate(144.9,220.7) rotate(-0)" d="M-2.8,-0.2 L2.7,-2.3 L1.0,2.8 Z"/><path transform="translate(193.9,224.9) rotate(2)" d="M-3.1,2.1 L0.9,-2.6 L2.5,2.8 Z"/><path transform="translate(171.5,237.1) rotate(6)" d="M-3.1,2.1 L0.9,-2.6 L2.5,2.8 Z"/><path transform="translate(228.4,216.1) rotate(7)" d="M-2.8,-0.2 L2.7,-2.3 L1.0,2.8 Z"/><path transform="translate(242.9,228.4) rotate(336)" d="M-2.8,-0.2 L2.7,-2.3 L1.0,2.8 Z"/></g>
<g fill="none" stroke="#0a0a0a" stroke-width="2" stroke-linecap="square"><path d="M35,171.5 H108 V624 H80.4 L77.6,637.6 L65.6,612 L62,624 H35 Z"/><path d="M640.6,171.5 H713.5 V624 H686.4 L682.4,612 L671,637.6 L667,624 H640.6 Z"/><path d="M108,206.4 H640 M108,263.7 H640"/><path d="M108,541 H640 M108,575 H640"/><path d="M117.5,507.5 V278.4 H153 V467"/><path d="M596,467 V278.2 H630.4 V508.4"/><path d="M356.2,472.6 V467.1 H138.6 V484.4 H356.2 V477.2"/><path d="M392.4,473.2 V467.1 H609.6 V484.4 H392.4 V478.0"/></g>
<g fill="#0a0a0a" stroke="#0a0a0a" stroke-width="0.7" stroke-linejoin="round"><path d="M362.6,472.2 L356.6,472.9 L350.0,477.6 L355.8,477.0 Z"/><path d="M386.2,472.7 L392.0,473.6 L398.2,478.6 L392.8,477.9 Z"/></g>
<g fill="none" stroke="#0a0a0a" stroke-width="1.5"><path d="M117.5,508 H153"/><path d="M630.4,508.4 H595"/></g>
<g fill="none" stroke="#0a0a0a" stroke-width="4.4" stroke-linejoin="round"><path d="M109,500 V533 A3,3 0 0 0 112,536 H179 A3,3 0 0 0 182,533 V507 A3,3 0 0 0 179,504 H158.9"/><path d="M176.7,519.4 H157.5 A3,3 0 0 1 154.5,516.4 V492.4 A3,3 0 0 1 157.5,489.4 H191.3 A3,3 0 0 1 194.3,492.4 V525"/><path d="M638,500 V530.5 A3.5,3.5 0 0 1 634.5,534 H568.5 A3.5,3.5 0 0 1 565,530.5 V505.5 A3.5,3.5 0 0 1 568.5,502 H587.5"/><path d="M570.6,517 H590 A3,3 0 0 0 593,514 V489.2 A3,3 0 0 0 590,486.2 H552.5 V522.2"/></g>
<g fill="#0a0a0a"><path d="M107,438.4 H112.5 V450 L113.3,452 V502 L111.8,504 V534 H106.4 V504 L106.6,502 Z"/><path d="M641.8,436.5 H636 V448 L635,450 V502 L635.3,504 V532 H640.6 V504 L641.8,502 Z"/></g>
<path d="M106.5,460.29999999999995 H80 L72.7,463.9 L80,468.09999999999997 H106.5" fill="none" stroke="#0a0a0a" stroke-width="2.1"/><path d="M67,463.9 H118" stroke="#0a0a0a" stroke-width="1.3"/><path d="M72.7,463.9 L79,460.9 V466.9 Z" fill="#0a0a0a"/><path d="M106.5,485.9 H80 L72.7,489.5 L80,493.7 H106.5" fill="none" stroke="#0a0a0a" stroke-width="2.1"/><path d="M67,489.5 H118" stroke="#0a0a0a" stroke-width="1.3"/><path d="M72.7,489.5 L79,486.5 V492.5 Z" fill="#0a0a0a"/><path d="M641.5,460.09999999999997 H668 L681.3,463.7 L668,467.9 H641.5" fill="none" stroke="#0a0a0a" stroke-width="2.1"/><path d="M631,463.7 H681.6" stroke="#0a0a0a" stroke-width="1.3"/><path d="M681.3,463.7 L675,460.7 V466.7 Z" fill="#0a0a0a"/><path d="M641.5,486.0 H668 L681.3,489.6 L668,493.8 H641.5" fill="none" stroke="#0a0a0a" stroke-width="2.1"/><path d="M631,489.6 H681.6" stroke="#0a0a0a" stroke-width="1.3"/><path d="M681.3,489.6 L675,486.6 V492.6 Z" fill="#0a0a0a"/>
<path fill="none" stroke="#0a0a0a" stroke-width="1.3" d="M108.4,118.5 V161 M640,118.5 V161 M110,129.4 H332.3 M403,129.4 H637 M154,159 V272.7 M595.4,159.4 V272.7 M155.6,170.3 H337.5 M398,170.3 H592.5 M750,149.8 V263 M650,265 H763 M636,279.6 H763 M750,281 V316 M546,351.5 H592.6 M631.9,351.5 H661.6 M286,364 V484 M286,544 V587.7 M511,380 V484 M501,506.2 H544 M511,507.5 V538 M750,423 V462 M688,463.6 H764 M648,536 H764 M750,538 V573"/>
<path fill="#0a0a0a" d="M110,129.4 L130,125.9 V132.9 Z M636.9,129.4 L616.9,125.9 V132.9 Z M155.6,170.3 L175.6,166.8 V173.8 Z M592.5,170.3 L572.5,166.8 V173.8 Z M750,263 L746.5,243 H753.5 Z M750,281 L746.5,300 H753.5 Z M592.6,351.5 L572.9,348.0 V355.0 Z M631.9,351.5 L650.9,348.0 V355.0 Z M286,483.6 L282.5,466.0 H289.5 Z M286,544 L282.5,563.2 H289.5 Z M511,484 L507.5,468 H514.5 Z M510.8,507.5 L507.3,526.5 H514.3 Z M750,462 L746.5,443 H753.5 Z M750,538 L746.5,557 H753.5 Z"/>
<g fill="#0a0a0a" font-family="Liberation Sans, sans-serif"><text x="349" y="137.8" font-weight="bold" font-size="24">CW</text><text x="350" y="175" font-weight="bold" font-size="24">DW</text><text x="551.8" y="346" font-weight="bold" font-size="24">T</text><text transform="translate(744.5,231) rotate(-90)" font-weight="bold" font-size="23.5">Min.7</text><text transform="translate(279.4,461) rotate(-90)" font-weight="bold" font-size="24">Min 24.5</text><text transform="translate(504,462) rotate(-90)" font-weight="bold" font-size="24">Max.13</text><text transform="translate(758.7,513) rotate(-90)" font-size="25">34</text><text x="238.5" y="640.5" font-weight="bold" font-size="24.4">CW: Inner width of cabinet</text><text x="238.5" y="669" font-weight="bold" font-size="24.4">DW: Inner width of drawer</text><text x="239" y="697.5" font-weight="bold" font-size="24.4">T: Thickness of side board</text></g>
</svg></body></html>
